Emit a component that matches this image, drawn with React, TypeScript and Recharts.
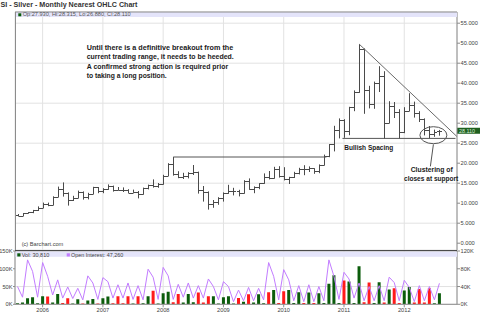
import React from 'react';
import {
  ComposedChart,
  Bar,
  Line,
  XAxis,
  YAxis,
  CartesianGrid,
  ReferenceLine,
  ReferenceDot,
  Cell,
} from 'recharts';

// monthly bars, Aug 2005 .. Aug 2012
const months = [
  '2005-08', '2005-09', '2005-10', '2005-11', '2005-12',
  '2006-01', '2006-02', '2006-03', '2006-04', '2006-05', '2006-06', '2006-07', '2006-08', '2006-09', '2006-10', '2006-11', '2006-12',
  '2007-01', '2007-02', '2007-03', '2007-04', '2007-05', '2007-06', '2007-07', '2007-08', '2007-09', '2007-10', '2007-11', '2007-12',
  '2008-01', '2008-02', '2008-03', '2008-04', '2008-05', '2008-06', '2008-07', '2008-08', '2008-09', '2008-10', '2008-11', '2008-12',
  '2009-01', '2009-02', '2009-03', '2009-04', '2009-05', '2009-06', '2009-07', '2009-08', '2009-09', '2009-10', '2009-11', '2009-12',
  '2010-01', '2010-02', '2010-03', '2010-04', '2010-05', '2010-06', '2010-07', '2010-08', '2010-09', '2010-10', '2010-11', '2010-12',
  '2011-01', '2011-02', '2011-03', '2011-04', '2011-05', '2011-06', '2011-07', '2011-08', '2011-09', '2011-10', '2011-11', '2011-12',
  '2012-01', '2012-02', '2012-03', '2012-04', '2012-05', '2012-06', '2012-07', '2012-08',
];

const opens = [
  7.05, 6.85, 7.48, 7.72, 8.28,
  8.85, 9.92, 9.6, 11.54, 13.48, 12.45, 10.85, 11.35, 12.9, 11.55, 12.3, 13.95,
  12.95, 13.5, 14.3, 13.38, 13.3, 13.22, 12.65, 12.85, 12.2, 13.75, 14.45, 14.3,
  14.8, 16.85, 19.85, 17.25, 16.45, 16.9, 17.5, 17.75, 13.3, 12.85, 9.75, 10.3,
  11.3, 12.45, 13.05, 13.1, 12.45, 15.6, 13.55, 13.95, 14.95, 16.65, 16.25, 18.5,
  16.9, 16.15, 16.45, 17.55, 18.65, 18.45, 18.7, 18.0, 19.6, 21.8, 24.7, 28.2,
  30.9, 27.95, 33.95, 37.85, 48.6, 38.4, 34.9, 40.05, 41.7, 30.1, 34.4, 32.8,
  27.9, 33.1, 34.6, 32.5, 31.1, 28.3, 27.4, 27.93,
];
const highs = [
  7.3, 7.55, 7.8, 8.32, 9.2,
  10.15, 10.15, 11.72, 14.15, 15.2, 12.7, 11.85, 13.15, 12.95, 12.6, 14.1, 14.05,
  13.75, 14.7, 14.4, 14.05, 13.95, 13.5, 13.4, 13.05, 13.9, 14.65, 15.95, 15.05,
  17.1, 20.0, 21.55, 18.0, 17.6, 17.75, 19.55, 17.9, 14.3, 12.95, 10.8, 11.5,
  12.7, 14.6, 13.85, 13.35, 15.75, 16.2, 14.2, 15.0, 17.45, 18.05, 19.1, 19.25,
  19.0, 16.6, 17.85, 18.85, 19.5, 19.2, 18.75, 19.7, 22.15, 24.8, 29.35, 31.2,
  31.0, 34.1, 38.2, 49.8, 48.7, 39.35, 40.4, 44.25, 43.0, 35.5, 35.3, 33.5,
  34.0, 37.5, 35.4, 33.0, 31.2, 29.3, 28.4, 28.315,
];
const lows = [
  6.77, 6.8, 7.42, 7.5, 8.05,
  8.8, 9.25, 9.5, 11.5, 11.65, 9.4, 10.55, 11.25, 10.9, 10.95, 12.25, 12.5,
  12.5, 13.35, 12.9, 13.25, 12.8, 12.55, 12.6, 11.2, 12.15, 13.45, 13.9, 13.85,
  14.65, 16.8, 16.9, 16.25, 16.05, 16.2, 17.05, 12.4, 10.4, 8.4, 8.85, 9.6,
  10.4, 12.35, 11.95, 11.7, 12.4, 13.35, 12.5, 13.5, 14.85, 15.95, 16.15, 16.4,
  15.7, 14.8, 16.3, 17.2, 17.0, 17.8, 17.35, 17.5, 19.45, 21.5, 22.95, 26.2,
  26.35, 27.0, 33.0, 37.6, 32.35, 33.7, 33.6, 37.8, 26.1, 30.0, 31.3, 26.15,
  27.5, 33.0, 31.4, 30.3, 26.95, 26.25, 26.6, 26.88,
];
const closes = [
  6.83, 7.46, 7.74, 8.28, 8.83,
  9.92, 9.6, 11.54, 13.48, 12.45, 10.85, 11.35, 12.9, 11.55, 12.3, 13.95, 12.95,
  13.5, 14.3, 13.38, 13.3, 13.22, 12.65, 12.85, 12.2, 13.75, 14.45, 14.3, 14.78,
  16.85, 19.85, 17.25, 16.45, 16.9, 17.5, 17.75, 13.3, 12.85, 9.75, 10.3, 11.3,
  12.45, 13.05, 13.1, 12.45, 15.6, 13.55, 13.95, 14.95, 16.65, 16.25, 18.5, 16.9,
  16.15, 16.45, 17.55, 18.65, 18.45, 18.7, 18.0, 19.6, 21.8, 24.7, 28.2, 30.9,
  27.95, 33.95, 37.85, 48.6, 38.4, 34.9, 40.05, 41.7, 30.1, 34.4, 32.8, 27.9,
  33.1, 34.6, 32.5, 31.1, 28.3, 27.4, 27.9, 28.11,
];

// volume and open interest, thousands of contracts
const volumesK = [
  3, 5, 17, 20, 3,
  23, 22, 5, 29, 4, 17, 2, 14, 2, 11, 15, 2,
  17, 22, 3, 23, 3, 23, 2, 23, 3, 23, 38, 2,
  31, 35, 6, 29, 5, 29, 6, 33, 5, 23, 23, 2,
  20, 23, 2, 18, 7, 28, 5, 28, 3, 34, 40, 4,
  37, 40, 4, 34, 4, 33, 4, 31, 4, 58, 82, 4,
  67, 64, 4, 107, 6, 61, 4, 62, 5, 42, 45, 4,
  39, 49, 5, 43, 5, 45, 3, 30.81,
];
const openInterestK = [
  40, 16, 100, 74, 16,
  94, 63, 21, 55, 14, 39, 13, 36, 10, 64, 48, 11,
  60, 51, 14, 44, 14, 48, 11, 42, 10, 79, 61, 11,
  83, 64, 11, 45, 16, 48, 14, 42, 14, 57, 40, 10,
  51, 40, 6, 32, 8, 38, 8, 36, 10, 94, 63, 10,
  78, 55, 8, 42, 6, 44, 6, 40, 8, 100, 63, 11,
  72, 57, 14, 48, 8, 40, 8, 42, 8, 61, 49, 8,
  54, 38, 6, 42, 8, 40, 10, 47.26,
];

const yearTickIdx = [5, 17, 29, 41, 53, 65, 77];
const yearLabels = ['2006', '2007', '2008', '2009', '2010', '2011', '2012'];
const priceTicks = [0, 5, 10, 15, 20, 25, 30, 35, 40, 45, 50, 55];
const volTicks = [0, 50, 100, 150];
const oiTicks = [0, 20, 40, 60, 80, 100, 120];

// chart annotations (month index / price)
const peakIdx = 68;
const trendEnd = { x: 87.5, y: 26.65 };
const resistanceFrom = 31;
const resistanceTo = 61.5;
const supportLevel = 26.2;
const supportFrom = 64.7;
const supportTo = 87.2;
const cluster = { x: 82.8, y: 27.0 };

const X_DOMAIN: [number, number] = [-0.5, 87.5];
const GRID = '#e2e2e2';
const AXIS = '#8c8c8c';
const FONT = '"Liberation Sans", Arial, sans-serif';

const rows = months.map((m, i) => ({
  idx: i,
  month: m,
  range: [lows[i], highs[i]],
  open: opens[i],
  high: highs[i],
  low: lows[i],
  close: closes[i],
  vol: volumesK[i],
  oi: openInterestK[i],
  up: i === 0 || closes[i] >= closes[i - 1],
}));

const OhlcBar = (props: any) => {
  const { x, y, width, height, payload } = props;
  if (x == null || !payload) return null;
  const top = Math.min(y, y + height);
  const h = Math.abs(height);
  const k = payload.high > payload.low ? h / (payload.high - payload.low) : 0;
  const cx = Math.round(x + width / 2) + 0.5;
  const yo = Math.round(top + (payload.high - payload.open) * k) + 0.5;
  const yc = Math.round(top + (payload.high - payload.close) * k) + 0.5;
  return (
    <g stroke="#4a4a4a" strokeWidth={1}>
      <line x1={cx} x2={cx} y1={top} y2={top + h} />
      <line x1={cx - 2.5} x2={cx} y1={yo} y2={yo} />
      <line x1={cx} x2={cx + 2.5} y1={yc} y2={yc} />
    </g>
  );
};

const PriceTag = (props: any) => {
  const vb = props.viewBox;
  if (!vb) return null;
  const x = vb.x + vb.width;
  const y = vb.y;
  return (
    <g>
      <rect x={x} y={y - 3} width={23} height={6} fill="#1f5f1f" />
      <text x={x + 2} y={y + 2} fontSize={5.4} fill="#d8f0d8" fontFamily={FONT}>
        {closes[closes.length - 1].toFixed(3)}
      </text>
    </g>
  );
};

const ClusterRing = (props: any) => (
  <ellipse cx={props.cx} cy={props.cy} rx={13.5} ry={8.5} fill="none" stroke="#555" strokeWidth={1} />
);

const Overlay = () => (
  <svg
    width={480}
    height={326}
    style={{ position: 'absolute', left: 0, top: 0, pointerEvents: 'none' }}
    fontFamily={FONT}
  >
    <text x={0.5} y={6.6} fontSize={6.5} fontWeight="bold" fill="#333" textLength={137} lengthAdjust="spacingAndGlyphs">
      SI - Silver - Monthly Nearest OHLC Chart
    </text>

    {/* price panel header */}
    <rect x={15.5} y={12} width={441.5} height={5} fill="#e4e4fa" />
    <line x1={15} x2={457} y1={12} y2={12} stroke={AXIS} />
    <line x1={15.5} x2={15.5} y1={12} y2={250} stroke={AXIS} />
    <rect x={18.3} y={13.3} width={3} height={3} fill="#0b5c0b" />
    <text x={22.7} y={16.4} fontSize={5.2} fill="#555" textLength={108} lengthAdjust="spacingAndGlyphs">
      Op:27.930, Hi:28.315, Lo:26.880, Cl:28.110
    </text>

    <g fontSize={7} fontWeight="bold" fill="#1a1a1a">
      <text x={86.7} y={50} textLength={146.5} lengthAdjust="spacingAndGlyphs">
        Until there is a definitive breakout from the
      </text>
      <text x={86.7} y={59.4} textLength={147} lengthAdjust="spacingAndGlyphs">
        current trading range, it needs to be heeded.
      </text>
      <text x={86.7} y={68.8} textLength={141.5} lengthAdjust="spacingAndGlyphs">
        A confirmed strong action is required prior
      </text>
      <text x={86.7} y={78.2} textLength={80} lengthAdjust="spacingAndGlyphs">
        to taking a long position.
      </text>
      <text x={344.3} y={150.4} textLength={49} lengthAdjust="spacingAndGlyphs">
        Bullish Spacing
      </text>
      <text x={410.7} y={171.6} textLength={42} lengthAdjust="spacingAndGlyphs">
        Clustering of
      </text>
      <text x={404} y={181} textLength={54.3} lengthAdjust="spacingAndGlyphs">
        closes at support
      </text>
    </g>

    <text x={21.7} y={245.6} fontSize={5.2} fill="#444" textLength={41.6} lengthAdjust="spacingAndGlyphs">
      (c) Barchart.com
    </text>

    {/* volume panel header */}
    <line x1={15} x2={457} y1={250.6} y2={250.6} stroke="#4a4a4a" strokeWidth={1.4} />
    <rect x={15.5} y={251.6} width={441.5} height={5.2} fill="#e4e4fa" />
    <rect x={17.3} y={253.3} width={3.2} height={3.2} fill="#0b5c0b" />
    <text x={21.7} y={256.6} fontSize={5.2} fill="#444" textLength={27.6} lengthAdjust="spacingAndGlyphs">
      Vol: 30,810
    </text>
    <rect x={66.7} y={253.3} width={3.2} height={3.2} fill="#c27cff" />
    <text x={71} y={256.6} fontSize={5.2} fill="#444" textLength={52.3} lengthAdjust="spacingAndGlyphs">
      Open Interest: 47,260
    </text>
  </svg>
);

const App: React.FC = () => {
  const tickStyle = { fontSize: 5.7, fill: '#444', fontFamily: FONT };
  return (
    <div style={{ position: 'relative', width: 480, height: 326, background: '#fff', overflow: 'hidden' }}>
      <style>{'body{margin:0}'}</style>

      <div style={{ position: 'absolute', left: 0, top: 0 }}>
        <ComposedChart width={480} height={251} data={rows} margin={{ top: 12, right: 0, bottom: 1, left: 15 }}>
          <CartesianGrid stroke={GRID} strokeWidth={1} />
          <XAxis type="number" dataKey="idx" domain={X_DOMAIN} ticks={yearTickIdx} allowDataOverflow hide />
          <YAxis
            orientation="right"
            width={23}
            domain={[-1.7, 57.8]}
            ticks={priceTicks}
            allowDataOverflow
            tickFormatter={(v: number) => v.toFixed(3)}
            tick={tickStyle}
            tickSize={3}
            tickMargin={0.5}
            axisLine={{ stroke: AXIS }}
            tickLine={{ stroke: AXIS }}
          />
          <Bar dataKey="range" barSize={5} shape={(p: any) => <OhlcBar {...p} />} isAnimationActive={false} />
          <ReferenceLine
            segment={[{ x: resistanceFrom, y: highs[resistanceFrom] }, { x: resistanceTo, y: highs[resistanceFrom] }]}
            stroke="#555"
            ifOverflow="visible"
          />
          <ReferenceLine
            segment={[{ x: supportFrom, y: supportLevel }, { x: supportTo, y: supportLevel }]}
            stroke="#555"
            ifOverflow="visible"
          />
          <ReferenceLine
            segment={[{ x: peakIdx, y: highs[peakIdx] }, trendEnd]}
            stroke="#6a6a6a"
            ifOverflow="visible"
          />
          <ReferenceDot x={cluster.x} y={cluster.y} r={1} shape={(p: any) => <ClusterRing {...p} />} ifOverflow="visible" />
          <ReferenceLine
            segment={[{ x: cluster.x, y: 24.7 }, { x: 82.2, y: 19.2 }]}
            stroke="#555"
            ifOverflow="visible"
          />
          <ReferenceLine y={closes[closes.length - 1]} stroke="none" label={<PriceTag />} ifOverflow="visible" />
        </ComposedChart>
      </div>

      <div style={{ position: 'absolute', left: 0, top: 245 }}>
        <ComposedChart width={480} height={81} data={rows} margin={{ top: 6, right: 0, bottom: 0, left: 0 }}>
          <CartesianGrid stroke={GRID} yAxisId="vol" />
          <XAxis
            type="number"
            dataKey="idx"
            domain={X_DOMAIN}
            ticks={yearTickIdx}
            allowDataOverflow
            height={21.7}
            tickFormatter={(v: number) => yearLabels[yearTickIdx.indexOf(v)]}
            tick={tickStyle}
            tickSize={3}
            tickMargin={1}
            axisLine={{ stroke: AXIS }}
            tickLine={{ stroke: AXIS }}
          />
          <YAxis
            yAxisId="vol"
            orientation="left"
            width={15}
            domain={[0, 150]}
            ticks={volTicks}
            allowDataOverflow
            tickFormatter={(v: number) => `${v}K`}
            tick={tickStyle}
            tickSize={2}
            tickMargin={0.5}
            axisLine={{ stroke: AXIS }}
            tickLine={{ stroke: AXIS }}
          />
          <YAxis
            yAxisId="oi"
            orientation="right"
            width={23}
            domain={[0, 120]}
            ticks={oiTicks}
            allowDataOverflow
            tickFormatter={(v: number) => `${v}K`}
            tick={tickStyle}
            tickSize={3}
            tickMargin={0.5}
            axisLine={{ stroke: AXIS }}
            tickLine={{ stroke: AXIS }}
          />
          <Bar yAxisId="vol" dataKey="vol" barSize={3} isAnimationActive={false}>
            {rows.map((r) => (
              <Cell key={r.month} fill={r.up ? '#0b5c0b' : '#ff1a1a'} />
            ))}
          </Bar>
          <Line
            yAxisId="oi"
            type="linear"
            dataKey="oi"
            stroke="#c27cff"
            strokeWidth={1}
            dot={false}
            isAnimationActive={false}
          />
        </ComposedChart>
      </div>

      <Overlay />
    </div>
  );
};

export default App;
